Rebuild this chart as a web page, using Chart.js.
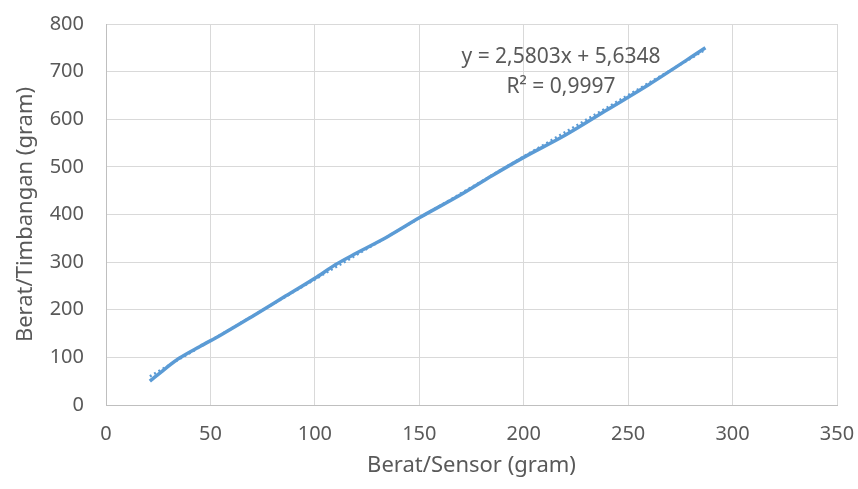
<!DOCTYPE html>
<html>
<head>
<meta charset="utf-8">
<script src="https://cdn.jsdelivr.net/npm/chart.js@4"></script>
<style>
html,body{margin:0;padding:0;background:#fff;}
#wrap{width:858px;height:489px;}
</style>
</head>
<body>
<div id="wrap"><canvas id="c" width="858" height="489"></canvas></div>
<script>
// Data
const sensorX = [21, 28, 35, 45, 55, 70, 85, 100, 110, 120, 135, 150, 170, 185, 200, 220, 240, 260, 287];
const timbanganY = [50, 75, 98, 123, 147, 186, 226, 266, 295, 319, 354, 393, 442, 482, 520, 567, 620, 673, 750];
const trendX = [21, 287];
const trendY = [60, 746];
const xTicks = [0, 50, 100, 150, 200, 250, 300, 350];
const yTicks = [0, 100, 200, 300, 400, 500, 600, 700, 800];
const eqLines = ["y = 2,5803x + 5,6348", "R² = 0,9997"];
const xTitle = "Berat/Sensor (gram)";
const yTitle = "Berat/Timbangan (gram)";

const blue = '#5B9BD5';
const txt = '#595959';
const font = '"Noto Sans", sans-serif';

const eqPlugin = {
  id: 'eq',
  afterDatasetsDraw(chart) {
    const ctx = chart.ctx;
    const ca = chart.chartArea;
    ctx.save();
    ctx.fillStyle = txt;
    ctx.font = '21px ' + font;
    ctx.textAlign = 'center';
    ctx.textBaseline = 'middle';
    const cx = ca.left + 455;
    ctx.fillText(eqLines[0], cx, ca.top + 33);
    ctx.fillText(eqLines[1], cx, ca.top + 63);
    ctx.restore();
  }
};

new Chart(document.getElementById('c'), {
  type: 'scatter',
  data: {
    datasets: [
      {
        data: sensorX.map((x, i) => ({x, y: timbanganY[i]})),
        showLine: true,
        borderColor: blue,
        backgroundColor: blue,
        borderWidth: 3.5,
        pointRadius: 0,
        tension: 0.4,
        cubicInterpolationMode: 'monotone',
        order: 1
      },
      {
        data: trendX.map((x, i) => ({x, y: trendY[i]})),
        showLine: true,
        borderColor: blue,
        borderWidth: 2.5,
        borderDash: [2, 3],
        pointRadius: 0,
        order: 2
      }
    ]
  },
  options: {
    responsive: false,
    animation: false,
    devicePixelRatio: 1,
    layout: { padding: { top: 24, right: 21, left: 0, bottom: 0 } },
    plugins: { legend: { display: false }, tooltip: { enabled: false } },
    scales: {
      x: {
        type: 'linear',
        min: 0, max: 350,
        afterBuildTicks(s) { s.ticks = xTicks.map(v => ({value: v})); },
        afterFit(s) { s.height = 84; s.paddingRight = 0; s.paddingLeft = 0; },
        grid: { color: '#d9d9d9', lineWidth: 1, drawTicks: false },
        border: { color: '#bfbfbf', width: 1 },
        ticks: { color: txt, font: { size: 20, family: font }, padding: 17, maxRotation: 0 },
        title: { display: true, text: xTitle, color: txt, font: { size: 22, family: font }, padding: { top: 4, bottom: 10 } }
      },
      y: {
        type: 'linear',
        min: 0, max: 800,
        afterBuildTicks(s) { s.ticks = yTicks.map(v => ({value: v})); },
        afterFit(s) { s.width = 106; s.paddingTop = 0; s.paddingBottom = 0; },
        grid: { color: '#d9d9d9', lineWidth: 1, drawTicks: false },
        border: { color: '#bfbfbf', width: 1 },
        ticks: { color: txt, font: { size: 20, family: font }, padding: 22 },
        title: { display: true, text: yTitle, color: txt, font: { size: 22, family: font }, padding: { top: 13, bottom: 0 } }
      }
    }
  },
  plugins: [eqPlugin]
});
</script>
</body>
</html>
